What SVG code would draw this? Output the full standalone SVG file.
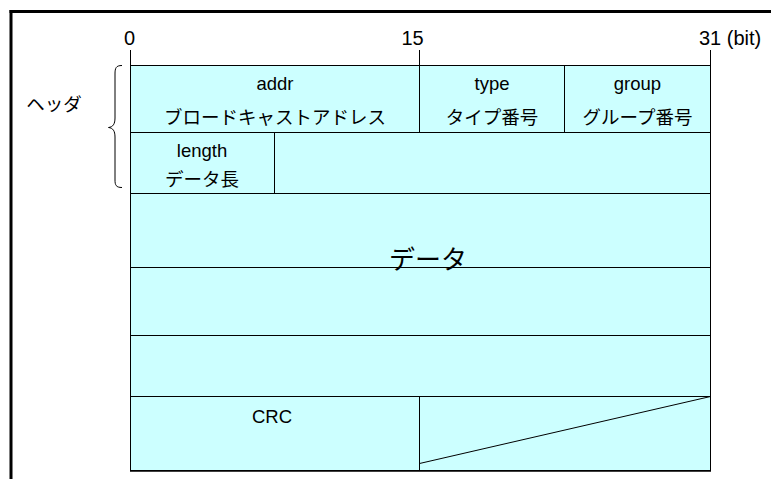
<svg xmlns="http://www.w3.org/2000/svg" width="771" height="479" viewBox="0 0 771 479">
<style>
.cell{fill:#CCFFFF;stroke:#000;stroke-width:1}
.ln{stroke:#000;stroke-width:1;fill:none}
.t{font-family:"Liberation Sans","Noto Sans CJK JP",Arial,sans-serif;font-size:18.5px;fill:#000;text-anchor:middle}
.n{font-family:"Liberation Sans",Arial,sans-serif;font-size:20px;fill:#000}
</style>
<rect width="771" height="479" fill="#fff"/>
<g id="frame">
<line x1="9.5" y1="11.5" x2="771" y2="11.5" stroke="#000" stroke-width="3"/>
<line x1="11" y1="10" x2="11" y2="479" stroke="#000" stroke-width="3"/>
</g>
<g id="scale">
<line class="ln" x1="130.5" y1="50" x2="130.5" y2="65"/>
<line class="ln" x1="419.5" y1="50" x2="419.5" y2="65"/>
<line class="ln" x1="710.5" y1="50" x2="710.5" y2="65"/>
<text class="n" x="129.5" y="45" text-anchor="middle">0</text>
<text class="n" x="412.5" y="45" text-anchor="middle">15</text>
<text class="n" x="699" y="45">31 (bit)</text>
</g>
<g id="header-label">
<text class="t" x="54" y="111">ヘッダ</text>
<path class="ln" d="M122,65.5 C116,65.5 115,68 115,74 L115,118 C115,124 113,127 108.5,127.5 C113,128 115,131 115,137 L115,180 C115,185 116,187.5 122,187.5"/>
</g>
<g id="addr">
<rect class="cell" x="130.5" y="65.5" width="289" height="67"/>
<text class="t" x="275" y="90">addr</text>
<text class="t" x="275" y="124">ブロードキャストアドレス</text>
</g>
<g id="type">
<rect class="cell" x="419.5" y="65.5" width="145" height="67"/>
<text class="t" x="492" y="90">type</text>
<text class="t" x="492" y="124">タイプ番号</text>
</g>
<g id="group">
<rect class="cell" x="564.5" y="65.5" width="146" height="67"/>
<text class="t" x="637.5" y="90">group</text>
<text class="t" x="637.5" y="124">グループ番号</text>
</g>
<g id="length">
<rect class="cell" x="130.5" y="132.5" width="144" height="61"/>
<text class="t" x="202" y="157">length</text>
<text class="t" x="202" y="186">データ長</text>
</g>
<g id="reserved">
<rect class="cell" x="274.5" y="132.5" width="436" height="61"/>
</g>
<g id="data">
<rect class="cell" x="130.5" y="193.5" width="580" height="74"/>
<rect class="cell" x="130.5" y="267.5" width="580" height="68"/>
<rect class="cell" x="130.5" y="335.5" width="580" height="61"/>
<text class="t" x="428" y="269" style="font-size:26px">データ</text>
</g>
<g id="crc">
<rect class="cell" x="130.5" y="396.5" width="289" height="74"/>
<text class="t" x="272" y="423">CRC</text>
</g>
<g id="pad">
<rect class="cell" x="419.5" y="396.5" width="291" height="74"/>
</g>
<g id="connectors">
<line class="ln" x1="419.5" y1="463.5" x2="710.5" y2="396.5"/>
<line x1="130" y1="471" x2="711" y2="471" stroke="#000" stroke-width="1.5"/>
</g>
</svg>
